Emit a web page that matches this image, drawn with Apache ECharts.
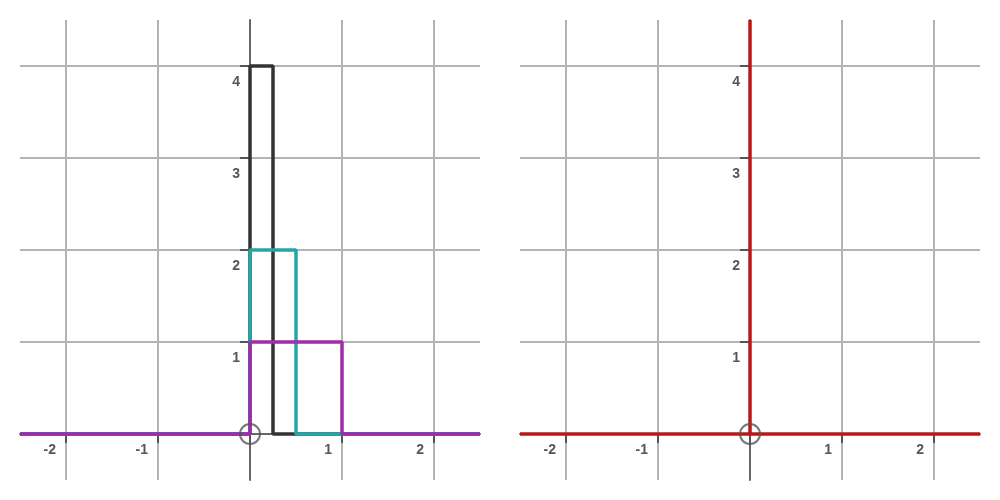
<!DOCTYPE html>
<html>
<head>
<meta charset="utf-8">
<script src="https://cdn.jsdelivr.net/npm/echarts@6/dist/echarts.min.js"></script>
<style>html,body{margin:0;padding:0;background:#fff}#c{width:1000px;height:500px}</style>
</head>
<body>
<div id="c"></div>
<script>
const xTicks = [-2, -1, 0, 1, 2];
const yTicks = [0, 1, 2, 3, 4];
const xRange = [-2.5, 2.5];
const yRange = [-0.5, 4.5];
// Left panel: rectangular pulses of unit area
const pulseBlack = [[-2.5, 0], [0, 0], [0, 4], [0.25, 4], [0.25, 0], [2.5, 0]];
const pulseTeal = [[-2.5, 0], [0, 0], [0, 2], [0.5, 2], [0.5, 0], [2.5, 0]];
const pulsePurple = [[-2.5, 0], [0, 0], [0, 1], [1, 1], [1, 0], [2.5, 0]];
// Right panel: Dirac delta
const deltaBase = [[-2.5, 0], [2.5, 0]];
const deltaSpike = [[0, 0], [0, 4.5]];
const origin = [[0, 0]];

const labelStyle = { color: '#555', fontWeight: 'bold', fontSize: 14, fontFamily: 'Liberation Sans, Arial, sans-serif' };

const W = 460, H = 460;
// axis offsets so that the axes sit at zero
const xOffset = -H * (0 - yRange[0]) / (yRange[1] - yRange[0]);
const yOffset = -W * (0 - xRange[0]) / (xRange[1] - xRange[0]);

function xAxis(gi) {
  return {
    type: 'value', gridIndex: gi, min: xRange[0], max: xRange[1], position: 'bottom', offset: xOffset,
    axisLine: { show: true, onZero: false, lineStyle: { color: '#666', width: 2 } },
    axisTick: { show: true, customValues: xTicks, length: 9, lineStyle: { color: '#555', width: 2 } },
    axisLabel: Object.assign({ customValues: xTicks, margin: 9, align: 'right', padding: [0, 10, 0, 0],
      formatter: v => (v === 0 ? '' : String(v)) }, labelStyle),
    splitLine: { show: true, lineStyle: { color: '#b4b4b4', width: 2 } }
  };
}
function yAxis(gi) {
  return {
    type: 'value', gridIndex: gi, min: yRange[0], max: yRange[1], position: 'left', offset: yOffset,
    axisLine: { show: true, onZero: false, lineStyle: { color: '#666', width: 2 } },
    axisTick: { show: true, customValues: yTicks, length: 10, lineStyle: { color: '#555', width: 2 } },
    axisLabel: Object.assign({ customValues: yTicks, margin: 10, verticalAlign: 'top', padding: [9, 0, 0, 0],
      formatter: v => (v === 0 ? '' : String(v)) }, labelStyle),
    splitLine: { show: true, lineStyle: { color: '#b4b4b4', width: 2 } }
  };
}
function line(gi, data, color, z) {
  return { type: 'line', xAxisIndex: gi, yAxisIndex: gi, data: data, showSymbol: false, symbol: 'none',
    lineStyle: { color: color, width: 3.5 }, z: z, silent: true, animation: false, clip: true };
}
function circ(gi) {
  return { type: 'scatter', xAxisIndex: gi, yAxisIndex: gi, data: origin, symbol: 'circle', symbolSize: 20,
    itemStyle: { color: 'rgba(0,0,0,0)', borderColor: '#555', borderWidth: 2 }, z: 10, silent: true, animation: false };
}

const chart = echarts.init(document.getElementById('c'), null, { renderer: 'canvas' });
chart.setOption({
  animation: false,
  backgroundColor: '#fff',
  grid: [
    { left: 20, right: 520, top: 20, bottom: 20 },
    { left: 520, right: 20, top: 20, bottom: 20 }
  ],
  xAxis: [xAxis(0), xAxis(1)],
  yAxis: [yAxis(0), yAxis(1)],
  series: [
    line(0, pulseBlack, '#333333', 2),
    line(0, pulseTeal, '#22a6a6', 3),
    line(0, pulsePurple, '#a12ba8', 4),
    circ(0),
    line(1, deltaBase, '#b81818', 2),
    line(1, deltaSpike, '#b81818', 3),
    circ(1)
  ]
});
</script>
</body>
</html>
